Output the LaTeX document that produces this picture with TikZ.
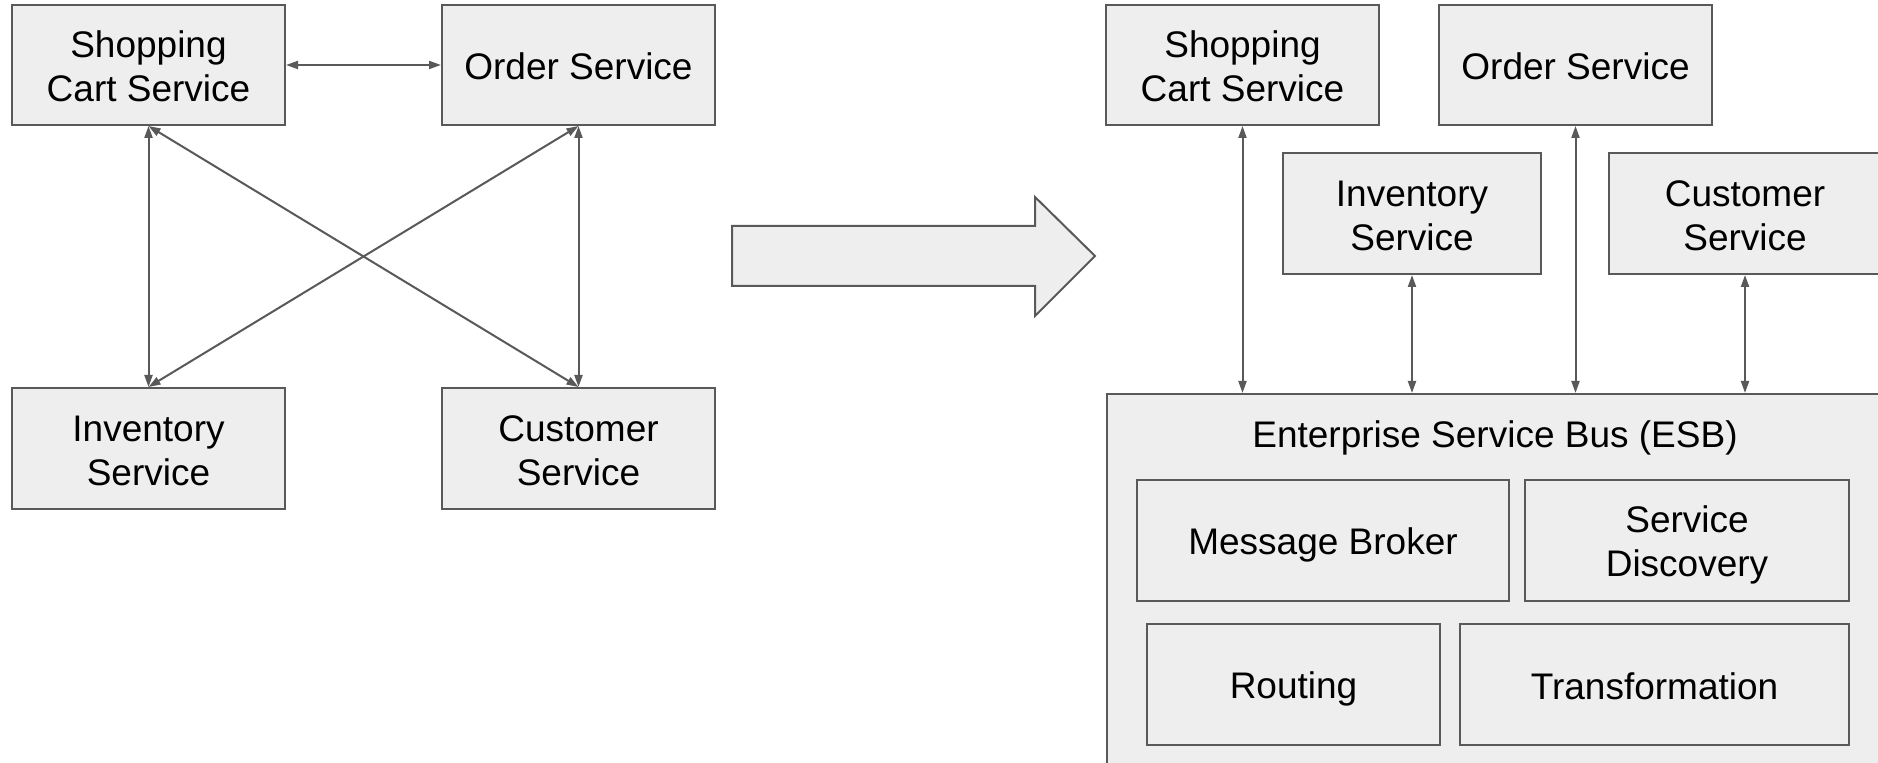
\documentclass[tikz,border=0pt]{standalone}
\usepackage{fontspec}
\setmainfont{Liberation Sans}
\usetikzlibrary{arrows.meta}
\definecolor{edgegray}{HTML}{595959}
\definecolor{boxfill}{HTML}{EEEEEE}
\newcommand{\ls}{\rule[-3pt]{0pt}{20.7pt}}
\tikzset{
  boxtext/.style={align=center, font=\fontsize{18.5pt}{22pt}\selectfont, text=black},
  box/.style={boxtext, draw=edgegray, line width=1pt, fill=boxfill, inner sep=0pt},
  link/.style={draw=edgegray, line width=1pt,
    {Triangle[length=6pt,width=4pt]}-{Triangle[length=6pt,width=4pt]}},
  bigarrow/.style={draw=edgegray, line width=1pt, fill=boxfill, line join=miter}
}
\begin{document}
\begin{tikzpicture}[x=0.5pt,y=-0.5pt]
\clip (0,0) rectangle (1878,763);
\fill[white] (0,0) rectangle (1878,763);
% left side
\node[box, minimum width=136.5pt, minimum height=60pt] (sc1) at (148.5,65) {\ls Shopping\\Cart Service\ls};
\node[box, minimum width=136.5pt, minimum height=60pt] (os1) at (578.5,65) {\ls Order Service\ls};
\node[box, minimum width=136.5pt, minimum height=60.5pt] (is1) at (148.5,448.5) {\ls Inventory\\Service\ls};
\node[box, minimum width=136.5pt, minimum height=60.5pt] (cs1) at (578.5,448.5) {\ls Customer\\Service\ls};
\draw[link] (sc1.east) -- (os1.west);
\draw[link] (sc1.south) -- (is1.north);
\draw[link] (os1.south) -- (cs1.north);
\draw[link] (sc1.south) -- (cs1.north);
\draw[link] (os1.south) -- (is1.north);
% big arrow
\draw[bigarrow] (732,226) -- (1035,226) -- (1035,197) -- (1095,256) -- (1035,316) -- (1035,286) -- (732,286) -- cycle;
% right side
\node[box, anchor=north west, minimum width=400pt, minimum height=210pt] (esb) at (1106,393) {};
\node[boxtext, inner sep=0pt] (esbt) at (1495,434) {\ls Enterprise Service Bus (ESB)\ls};
\node[box, minimum width=136.5pt, minimum height=60pt] (sc2) at (1242.5,65) {\ls Shopping\\Cart Service\ls};
\node[box, minimum width=136.5pt, minimum height=60pt] (os2) at (1575.5,65) {\ls Order Service\ls};
\node[box, minimum width=129pt, minimum height=60.5pt] (is2) at (1412,213.5) {\ls Inventory\\Service\ls};
\node[box, minimum width=136pt, minimum height=60.5pt] (cs2) at (1745,213.5) {\ls Customer\\Service\ls};
\node[box, minimum width=186pt, minimum height=60.5pt] (mb) at (1323,540.5) {\ls Message Broker\ls};
\node[box, minimum width=162pt, minimum height=60.5pt] (sd) at (1687,540.5) {\ls Service\\Discovery\ls};
\node[box, minimum width=146.5pt, minimum height=60.5pt] (rt) at (1293.5,684.5) {\ls Routing\ls};
\node[box, minimum width=194.5pt, minimum height=60.5pt] (tf) at (1654.5,684.5) {\ls Transformation\ls};
\draw[link] (sc2.south) -- (sc2.south |- esb.north);
\draw[link] (is2.south) -- (is2.south |- esb.north);
\draw[link] (os2.south) -- (os2.south |- esb.north);
\draw[link] (cs2.south) -- (cs2.south |- esb.north);
\end{tikzpicture}
\end{document}
